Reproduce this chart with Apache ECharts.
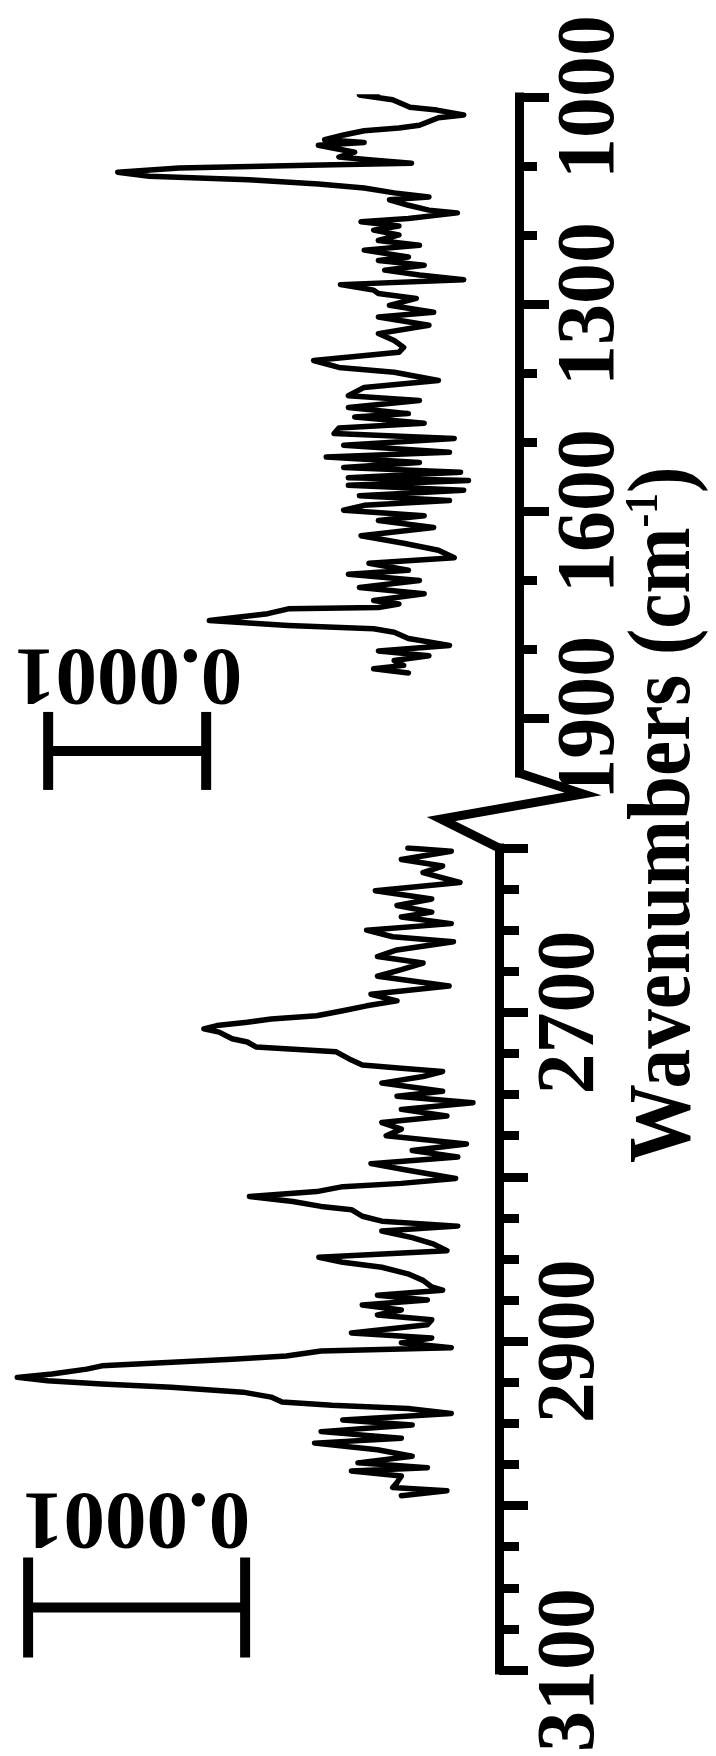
<!DOCTYPE html>
<html>
<head>
<meta charset="utf-8">
<script src="https://cdn.jsdelivr.net/npm/echarts@6/dist/echarts.min.js"></script>
<style>
  html, body { margin: 0; padding: 0; background: #fff; }
  #chart { width: 716px; height: 1756px; }
</style>
</head>
<body>
<div id="chart"></div>
<script>
// ---- Wavenumber axis ticks (cm-1) ----
const fingerprintLabels = [1000, 1300, 1600, 1900];
const fingerprintMinor = [1100, 1200, 1400, 1500, 1700, 1800];
const stretchLabels = [2700, 2900, 3100];
const stretchMajor = [2600, 2700, 2800, 2900, 3000, 3100];
const stretchMinor = [2625, 2650, 2675, 2725, 2750, 2775, 2825, 2850, 2875,
                      2925, 2950, 2975, 3025, 3050, 3075];

// ---- Difference spectra: [wavenumber cm-1, absorbance in units of 1e-4] ----
const fingerprintTrace = [
  [993, 0.89], [997, 1.01], [1004, 0.80], [1015, 0.69], [1019, 0.52], [1026, 0.35],
  [1030, 0.51], [1041, 0.63], [1045, 0.76], [1049, 0.98], [1055, 1.11], [1062, 1.23],
  [1066, 0.98], [1070, 1.27], [1080, 1.04], [1087, 1.14], [1091, 0.95], [1096, 0.68],
  [1099, 1.33], [1103, 2.15], [1109, 2.54], [1115, 2.34], [1120, 1.71], [1126, 1.27],
  [1132, 0.98], [1139, 0.79], [1145, 0.57], [1149, 0.82], [1157, 0.70], [1164, 0.57],
  [1168, 0.39], [1176, 0.70], [1181, 1.00], [1187, 0.76], [1193, 0.92], [1200, 0.76],
  [1208, 0.89], [1215, 0.63], [1222, 0.98], [1232, 0.70], [1237, 0.89], [1244, 0.60],
  [1251, 0.85], [1258, 0.63], [1265, 0.35], [1272, 1.13], [1280, 0.92], [1285, 0.89],
  [1292, 0.65], [1302, 0.82], [1312, 0.54], [1319, 0.89], [1331, 0.57], [1343, 0.89],
  [1353, 0.79], [1363, 0.73], [1370, 0.76], [1382, 1.30], [1392, 1.14], [1399, 0.79],
  [1411, 0.51], [1421, 0.98], [1433, 1.08], [1440, 0.63], [1450, 1.08], [1459, 0.70],
  [1464, 1.04], [1473, 0.60], [1480, 1.14], [1488, 1.17], [1495, 0.41], [1505, 1.11],
  [1515, 0.44], [1522, 1.22], [1530, 0.63], [1537, 1.11], [1544, 0.37], [1552, 1.08],
  [1556, 0.32], [1563, 1.08], [1570, 0.35], [1578, 1.01], [1585, 0.44], [1592, 0.98],
  [1599, 1.11], [1607, 0.60], [1614, 0.89], [1624, 0.54], [1636, 1.00], [1647, 0.73],
  [1657, 0.51], [1668, 0.41], [1676, 0.95], [1686, 0.70], [1692, 1.08], [1701, 0.63],
  [1711, 1.01], [1720, 0.60], [1730, 0.92], [1735, 0.76], [1740, 0.89], [1742, 1.46],
  [1749, 1.59], [1759, 1.96], [1766, 1.46], [1771, 0.92], [1776, 0.79], [1785, 0.70],
  [1795, 0.44], [1803, 0.89], [1810, 0.57], [1817, 0.79], [1824, 0.73], [1829, 0.92],
  [1835, 0.70]
];

const stretchTrace = [
  [2600, 0.42], [2602, 0.22], [2607, 0.45], [2611, 0.26], [2615, 0.35], [2621, 0.18],
  [2626, 0.57], [2631, 0.31], [2635, 0.47], [2639, 0.31], [2642, 0.45], [2646, 0.22],
  [2650, 0.61], [2654, 0.49], [2657, 0.21], [2662, 0.47], [2666, 0.56], [2670, 0.35],
  [2674, 0.45], [2678, 0.56], [2684, 0.23], [2689, 0.59], [2693, 0.47], [2696, 0.61],
  [2699, 0.72], [2702, 0.84], [2704, 1.05], [2706, 1.16], [2708, 1.30], [2710, 1.36],
  [2712, 1.29], [2716, 1.23], [2718, 1.16], [2721, 1.12], [2724, 0.75], [2729, 0.68],
  [2732, 0.63], [2734, 0.45], [2736, 0.26], [2739, 0.35], [2743, 0.54], [2748, 0.26],
  [2751, 0.47], [2755, 0.12], [2759, 0.45], [2763, 0.24], [2767, 0.54], [2771, 0.45],
  [2775, 0.52], [2780, 0.15], [2784, 0.40], [2788, 0.19], [2792, 0.59], [2796, 0.42],
  [2801, 0.20], [2804, 0.45], [2806, 0.72], [2809, 0.84], [2812, 1.15], [2815, 0.95],
  [2818, 0.82], [2820, 0.68], [2824, 0.63], [2827, 0.54], [2830, 0.19], [2833, 0.54],
  [2837, 0.40], [2841, 0.30], [2845, 0.24], [2849, 0.83], [2852, 0.72], [2855, 0.54],
  [2859, 0.42], [2863, 0.35], [2867, 0.31], [2869, 0.26], [2872, 0.56], [2875, 0.33],
  [2878, 0.63], [2881, 0.45], [2884, 0.56], [2887, 0.31], [2890, 0.33], [2895, 0.68],
  [2898, 0.31], [2901, 0.45], [2904, 0.22], [2906, 0.82], [2909, 0.98], [2911, 1.23],
  [2915, 1.83], [2917, 1.90], [2920, 2.06], [2922, 2.22], [2924, 2.08], [2926, 1.83],
  [2928, 1.51], [2931, 1.18], [2934, 1.05], [2937, 1.00], [2939, 0.77], [2941, 0.42],
  [2944, 0.22], [2948, 0.72], [2951, 0.40], [2955, 0.82], [2959, 0.45], [2962, 0.85],
  [2966, 0.56], [2970, 0.40], [2974, 0.65], [2977, 0.33], [2979, 0.68], [2982, 0.45],
  [2986, 0.47], [2989, 0.49], [2991, 0.24], [2994, 0.45]
];

const scaleBarText = '0.0001';   // one unit of the absorbance axes above
const axisTitleRich = '{t|Wavenumbers (cm}{s|-1}{t|)}';

// ---- Styling / layout ----
const FONT = '"Liberation Serif", "Times New Roman", serif';
const INK = '#000';
const TOP_MAX = 1980;            // top axis runs a little past 1900 before the break
const TOP_PX_PER_UNIT = 158;     // pixels per 1e-4 absorbance, 1000-1900 panel
const LOW_PX_PER_UNIT = 217;     // pixels per 1e-4 absorbance, 2600-3100 panel
const TOP_W = 519, LOW_W = 499;

const chart = echarts.init(document.getElementById('chart'), null, { renderer: 'canvas' });

const labelStyle = {
  show: true, rotate: 90, margin: 32,
  fontSize: 82, fontWeight: 'bold', fontFamily: FONT, color: INK,
  formatter: function (v) { return String(v); }
};

function wnAxis(grid, min, max, ticks, tickLen, labels, showLine) {
  return {
    gridIndex: grid, type: 'value', position: 'right', inverse: true,
    min: min, max: max,
    axisLine: { show: showLine, onZero: false, lineStyle: { color: INK, width: 9, cap: 'square' } },
    axisTick: { show: true, inside: false, customValues: ticks, length: tickLen,
                lineStyle: { color: INK, width: 9 } },
    axisLabel: labels ? Object.assign({}, labelStyle, { customValues: labels }) : { show: false },
    splitLine: { show: false }
  };
}

function traceSeries(trace, idx, yIdx) {
  return {
    type: 'line', xAxisIndex: idx, yAxisIndex: yIdx,
    data: trace.map(function (p) { return [p[1], p[0]]; }),
    showSymbol: false, symbol: 'none', silent: true,
    lineStyle: { color: INK, width: 5.5, join: 'round', cap: 'round' }
  };
}

chart.setOption({
  animation: false,
  backgroundColor: '#fff',
  grid: [
    { left: 0, top: 97, width: TOP_W, height: 676, containLabel: false, outerBoundsMode: 'none' },
    { left: 0, top: 848, width: LOW_W, height: 822, containLabel: false, outerBoundsMode: 'none' }
  ],
  xAxis: [
    { gridIndex: 0, type: 'value', inverse: true, min: 0, max: TOP_W / TOP_PX_PER_UNIT, show: false },
    { gridIndex: 1, type: 'value', inverse: true, min: 0, max: LOW_W / LOW_PX_PER_UNIT, show: false }
  ],
  yAxis: [
    wnAxis(0, 1000, TOP_MAX, fingerprintLabels, 30, fingerprintLabels, true),
    wnAxis(0, 1000, TOP_MAX, fingerprintMinor, 18, null, false),
    wnAxis(1, 2600, 3100, stretchMajor, 29, stretchLabels, true),
    wnAxis(1, 2600, 3100, stretchMinor, 20, null, false)
  ],
  series: [
    traceSeries(fingerprintTrace, 0, 0),
    traceSeries(stretchTrace, 1, 2)
  ]
});

// ---- Axis break, scale bars and titles ----
const topAxisX = chart.convertToPixel({ xAxisIndex: 0 }, 0);
const lowAxisX = chart.convertToPixel({ xAxisIndex: 1 }, 0);
const topEndY = chart.convertToPixel({ yAxisIndex: 0 }, TOP_MAX);
const lowStartY = chart.convertToPixel({ yAxisIndex: 2 }, 2600);

function scaleBar(xIdx, yIdx, startUnit, wn, capHalf) {
  const xa = chart.convertToPixel({ xAxisIndex: xIdx }, startUnit);
  const xb = chart.convertToPixel({ xAxisIndex: xIdx }, startUnit + 1);
  const y = chart.convertToPixel({ yAxisIndex: yIdx }, wn);
  const st = { stroke: INK, lineWidth: 10 };
  return [
    { type: 'line', shape: { x1: xa, y1: y, x2: xb, y2: y }, style: st, silent: true },
    { type: 'line', shape: { x1: xa, y1: y - capHalf, x2: xa, y2: y + capHalf }, style: st, silent: true },
    { type: 'line', shape: { x1: xb, y1: y - capHalf, x2: xb, y2: y + capHalf }, style: st, silent: true }
  ];
}

const graphics = [
  {
    type: 'polyline', silent: true,
    shape: { points: [
      [topAxisX, topEndY],
      [topAxisX + 64, topEndY + 21],
      [lowAxisX - 58, topEndY + 46],
      [lowAxisX, lowStartY]
    ] },
    style: { stroke: INK, lineWidth: 9, fill: null, lineJoin: 'miter' }
  },
  {
    type: 'text', x: 128, y: 671, rotation: Math.PI, silent: true,
    style: { text: scaleBarText, fontSize: 83, fontWeight: 'bold', fontFamily: FONT,
             fill: INK, align: 'center', verticalAlign: 'middle' }
  },
  {
    type: 'text', x: 136, y: 1515, rotation: Math.PI, silent: true,
    style: { text: scaleBarText, fontSize: 83, fontWeight: 'bold', fontFamily: FONT,
             fill: INK, align: 'center', verticalAlign: 'middle' }
  },
  {
    // axis title, a tall narrow bold serif
    type: 'text', x: 666, y: 815, rotation: Math.PI / 2, scaleX: 0.9, scaleY: 1, silent: true,
    style: {
      text: axisTitleRich, align: 'center', verticalAlign: 'middle',
      rich: {
        t: { fontSize: 88, fontWeight: 'bold', fontFamily: FONT, fill: INK },
        s: { fontSize: 46, fontWeight: 'bold', fontFamily: FONT, fill: INK, verticalAlign: 'top' }
      }
    }
  }
].concat(
  scaleBar(0, 0, 1.98, 1948, 39),
  scaleBar(1, 2, 1.17, 3062, 50)
);

chart.setOption({ graphic: graphics });
</script>
</body>
</html>
